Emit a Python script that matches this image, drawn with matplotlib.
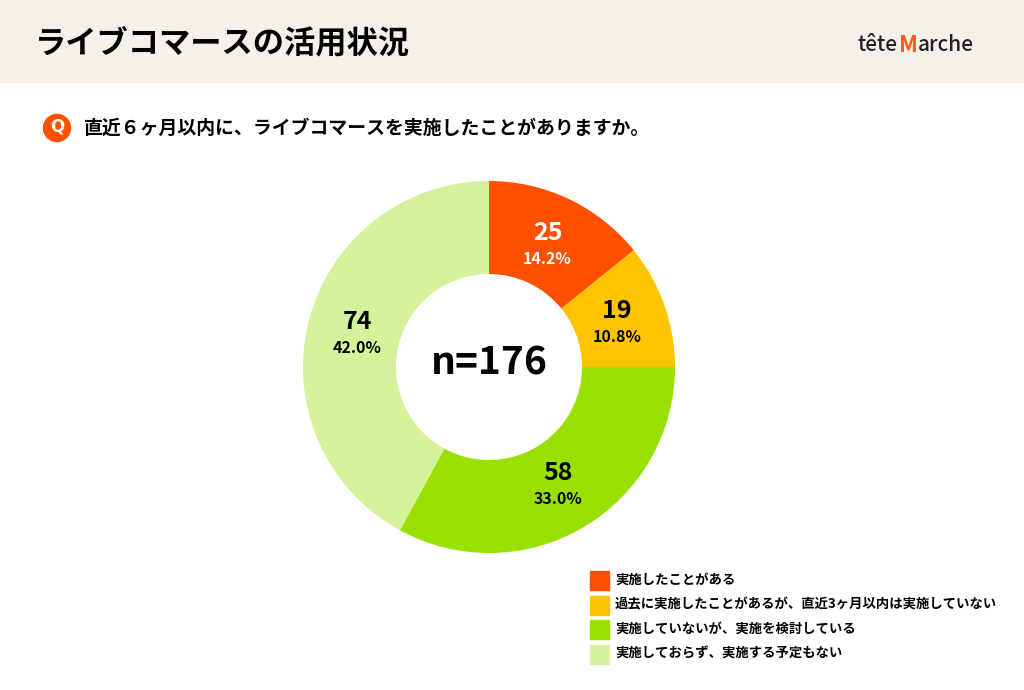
import matplotlib.pyplot as plt
import matplotlib.patches as mpatches
import numpy as np

plt.rcParams['font.family'] = ['Noto Sans CJK JP', 'DejaVu Sans']

# ─── データ ──────────────────────────────────────────────────────────────
categories = [
    "実施したことがある",
    "過去に実施したことがあるが、直近3ヶ月以内は実施していない",
    "実施していないが、実施を検討している",
    "実施しておらず、実施する予定もない",
]
counts = [25, 19, 58, 74]
colors = ["#FF5000", "#FFC400", "#99E000", "#D4F29A"]
label_colors = ["white", "black", "black", "black"]

title = "ライブコマースの活用状況"
question = "直近６ヶ月以内に、ライブコマースを実施したことがありますか。"

W, H = 1024, 690
fig = plt.figure(figsize=(W / 100, H / 100), dpi=100)

# 背景・テキスト用 (ピクセル座標)
bg = fig.add_axes([0, 0, 1, 1])
bg.set_xlim(0, W)
bg.set_ylim(H, 0)
bg.axis("off")
bg.add_patch(mpatches.Rectangle((0, 0), W, 82, color="#F6F0EB", zorder=0))
bg.text(35, 43, title, fontsize=22.5, fontweight="bold", va="center", ha="left")

# ロゴ
bg.text(858, 45, "tête", fontsize=15, fontweight="medium", va="center", ha="left", color="#222222")
bg.text(899, 45, "M", fontsize=16, fontweight="bold", va="center", ha="left", color="#FF5A1F")
bg.text(918, 45, "arche", fontsize=15, fontweight="medium", va="center", ha="left", color="#222222")

# 質問
bg.add_patch(mpatches.Ellipse((57, 128), 27, 27, color="#FF5000", zorder=2))
bg.text(57, 127, "Q", fontsize=12, fontweight="bold", color="white",
        ha="center", va="center", zorder=3, family="DejaVu Sans")
bg.text(84, 128, question, fontsize=13.6, fontweight="bold", va="center", ha="left")

# 凡例
for i, (cat, col) in enumerate(zip(categories, colors)):
    y = 580 + i * 24.5
    bg.add_patch(mpatches.Rectangle((590, y - 9), 19, 19, color=col))
    bg.text(615, y, cat, fontsize=9.6, fontweight="bold", va="center", ha="left")

# ドーナツ
cx, cy, r = 489, 367, 186
ax = fig.add_axes([(cx - r) / W, (H - cy - r) / H, 2 * r / W, 2 * r / H])
total = sum(counts)
wedges, _ = ax.pie(counts, colors=colors, startangle=90, counterclock=False,
                   radius=1, wedgeprops=dict(width=0.5, linewidth=0))
ax.set_xlim(-1, 1)
ax.set_ylim(-1, 1)
ax.set_aspect("equal")
ax.axis("off")

start = 90
for v, lc in zip(counts, label_colors):
    ang = np.deg2rad(start - v / total * 360 / 2)
    start -= v / total * 360
    x, y = 0.73 * np.cos(ang), 0.73 * np.sin(ang)
    ax.text(x, y + 0.06, f"{v}", fontsize=18, fontweight="bold", color=lc,
            ha="center", va="center")
    ax.text(x, y - 0.08, f"{v / total * 100:.1f}%", fontsize=11.5,
            fontweight="bold", color=lc, ha="center", va="center")

ax.text(0, 0.02, f"n={total}", fontsize=28, fontweight="bold",
        ha="center", va="center")

fig.savefig("out.png", dpi=100)
